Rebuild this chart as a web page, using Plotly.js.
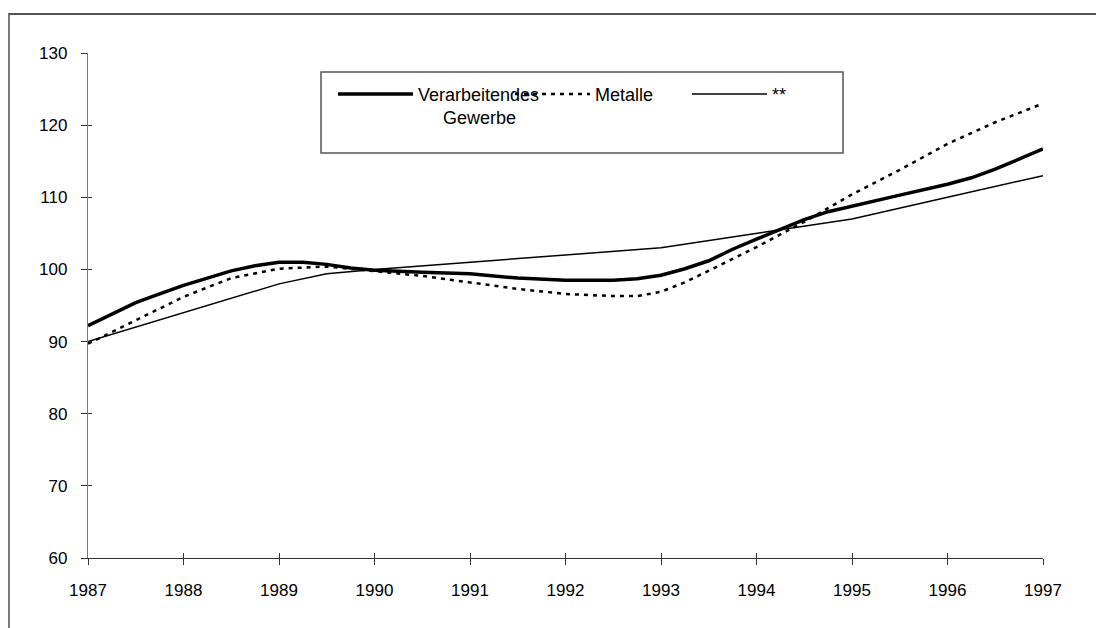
<!DOCTYPE html>
<html>
<head>
<meta charset="utf-8">
<script src="https://cdn.plot.ly/plotly-3.0.1.min.js"></script>
<style>
  html, body { margin: 0; padding: 0; background: #fff; overflow: hidden; }
  #wrap { position: relative; width: 1096px; height: 628px; }
  #frame { position: absolute; left: 8px; top: 13px; width: 1200px; height: 700px;
           border-left: 2px solid #7a7a7a; border-top: 2px solid #555; box-sizing: border-box; }
  #chart { position: absolute; left: 0; top: 0; width: 1096px; height: 628px; }
</style>
</head>
<body>
<div id="wrap">
  <div id="frame"></div>
  <div id="chart"></div>
</div>
<script>
// Verarbeitendes Gewerbe (thick line)
const yearsVG = [1987.0, 1987.25, 1987.5, 1987.75, 1988.0, 1988.25, 1988.5, 1988.75,
                 1989.0, 1989.25, 1989.5, 1989.75, 1990.0, 1990.5, 1991.0, 1991.5,
                 1992.0, 1992.5, 1992.75, 1993.0, 1993.25, 1993.5, 1993.75, 1994.0,
                 1994.25, 1994.5, 1994.75, 1995.0, 1995.5, 1996.0, 1996.25, 1996.5,
                 1996.75, 1997.0];
const valuesVG = [92.2, 93.8, 95.4, 96.6, 97.8, 98.8, 99.8, 100.5,
                  101.0, 101.0, 100.7, 100.2, 99.9, 99.6, 99.4, 98.8,
                  98.5, 98.5, 98.7, 99.2, 100.1, 101.2, 102.8, 104.2,
                  105.6, 106.9, 108.0, 108.8, 110.3, 111.8, 112.7, 113.9,
                  115.3, 116.7];

// Metalle (dashed line)
const yearsMet = [1987.0, 1987.5, 1988.0, 1988.5, 1989.0, 1989.5, 1990.0, 1990.5,
                  1991.0, 1991.5, 1992.0, 1992.5, 1992.75, 1993.0, 1993.25, 1993.5,
                  1994.0, 1994.5, 1995.0, 1995.5, 1996.0, 1996.5, 1997.0];
const valuesMet = [89.7, 92.9, 96.2, 98.8, 100.1, 100.4, 99.8, 99.1,
                   98.2, 97.3, 96.6, 96.3, 96.3, 96.9, 98.2, 99.8,
                   103.1, 106.6, 110.4, 113.8, 117.4, 120.4, 123.0];

// ** (thin line)
const yearsStar = [1987, 1988, 1989, 1989.5, 1990, 1993, 1994, 1995, 1996, 1997];
const valuesStar = [90, 94, 98, 99.4, 100, 103, 105, 107, 110, 113];

const xTicks = [1987, 1988, 1989, 1990, 1991, 1992, 1993, 1994, 1995, 1996, 1997];
const yTicks = [60, 70, 80, 90, 100, 110, 120, 130];
const NB = '\u00a0';
const seriesNames = ['Verarbeitendes<br>' + NB.repeat(5) + 'Gewerbe', 'Metalle', '**'];

const FONT = 'Liberation Sans, Arial, sans-serif';

const traces = [
  { x: yearsVG, y: valuesVG, name: seriesNames[0], type: 'scatter', mode: 'lines',
    line: { color: '#000', width: 3.5 } },
  { x: yearsMet, y: valuesMet, name: seriesNames[1], type: 'scatter', mode: 'lines',
    line: { color: '#000', width: 2.5, dash: '4px,5px' } },
  { x: yearsStar, y: valuesStar, name: seriesNames[2], type: 'scatter', mode: 'lines',
    line: { color: '#000', width: 1.5 } },
  // empty helper trace so the overlay axes (crossing tick marks) get drawn
  { x: [], y: [], xaxis: 'x2', yaxis: 'y2', type: 'scatter', mode: 'lines',
    showlegend: false, hoverinfo: 'skip' }
];

const axisCommon = { showgrid: false, zeroline: false, fixedrange: true };

const layout = {
  width: 1096, height: 628,
  margin: { l: 88, r: 53, t: 53, b: 70 },
  paper_bgcolor: 'rgba(0,0,0,0)',
  plot_bgcolor: 'rgba(0,0,0,0)',
  font: { family: FONT, size: 17, color: '#000' },
  showlegend: true,
  legend: {
    orientation: 'h', x: 0.2565, xanchor: 'left', y: 0.955, yanchor: 'top',
    bgcolor: 'rgba(0,0,0,0)', borderwidth: 0,
    itemwidth: 75, entrywidth: 87, valign: 'top',
    font: { family: FONT, size: 18, color: '#000' },
    traceorder: 'normal'
  },
  shapes: [
    { type: 'rect', xref: 'paper', yref: 'paper',
      x0: 0.244, x1: 0.7906, y0: 0.802, y1: 0.9624,
      line: { color: '#555', width: 1.5 }, fillcolor: 'rgba(0,0,0,0)', layer: 'below' }
  ],
  xaxis: Object.assign({}, axisCommon, {
    range: [1987, 1997], tickvals: xTicks, ticktext: xTicks.map(String),
    ticks: 'outside', ticklen: 6, tickwidth: 1, tickcolor: '#333',
    showline: true, linecolor: '#333', linewidth: 1.2,
    ticklabelstandoff: 10, tickfont: { family: FONT, size: 17 }
  }),
  xaxis2: Object.assign({}, axisCommon, {
    range: [1987, 1997], tickvals: xTicks, overlaying: 'x', anchor: 'y2',
    ticks: 'inside', ticklen: 5, tickwidth: 1, tickcolor: '#333',
    showticklabels: false, showline: false
  }),
  yaxis: Object.assign({}, axisCommon, {
    range: [60, 130], tickvals: yTicks, ticktext: yTicks.map(String),
    ticks: 'outside', ticklen: 6, tickwidth: 1, tickcolor: '#333',
    showline: true, linecolor: '#777', linewidth: 1.2,
    ticklabelstandoff: 10, tickfont: { family: FONT, size: 17 }
  }),
  yaxis2: Object.assign({}, axisCommon, {
    range: [60, 130], tickvals: yTicks, overlaying: 'y', anchor: 'x2',
    ticks: 'inside', ticklen: 4, tickwidth: 1, tickcolor: '#333',
    showticklabels: false, showline: false
  })
};

Plotly.newPlot('chart', traces, layout, { displayModeBar: false, staticPlot: true });
</script>
</body>
</html>
